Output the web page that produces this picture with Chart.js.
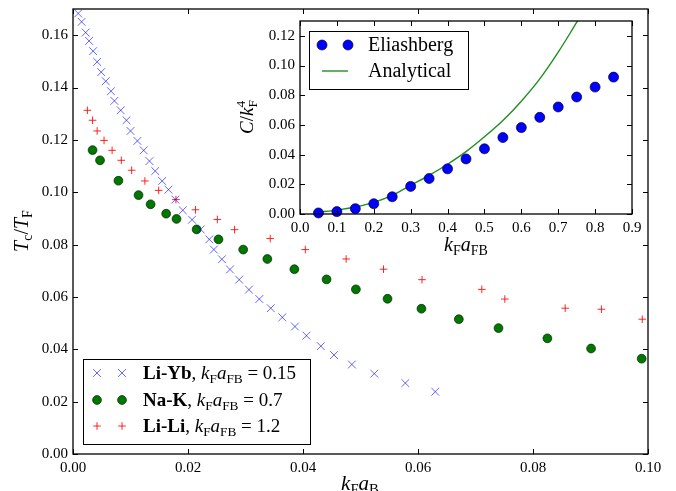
<!DOCTYPE html>
<html>
<head>
<meta charset="utf-8">
<script src="https://cdn.jsdelivr.net/npm/chart.js@4"></script>
<style>
  html, body { margin: 0; padding: 0; background: #fff; }
  #wrap { position: relative; width: 676px; height: 491px; overflow: hidden; }
  #main { position: absolute; left: 0; top: 0; }
  #inset { position: absolute; left: 230px; top: 0; }
</style>
</head>
<body>
<div id="wrap">
  <canvas id="main" width="676" height="491"></canvas>
  <canvas id="inset" width="430" height="262"></canvas>
</div>
<script>
// main panel: Tc/TF against kF aB
const liYbX = [0.0009, 0.0015, 0.0022, 0.0028, 0.0035, 0.0042, 0.0049, 0.0057, 0.0066, 0.0072, 0.0083, 0.0093, 0.0100, 0.0112, 0.0123, 0.0133, 0.0143, 0.0155, 0.0166, 0.0178, 0.0191, 0.0207, 0.0222, 0.0237, 0.0245, 0.0259, 0.0273, 0.0289, 0.0306, 0.0324, 0.0344, 0.0364, 0.0386, 0.0406, 0.0431, 0.0454, 0.0485, 0.0524, 0.0578, 0.0630];
const liYbY = [0.1683, 0.1651, 0.1610, 0.1578, 0.1539, 0.1498, 0.1459, 0.1424, 0.1386, 0.1349, 0.1313, 0.1275, 0.1234, 0.1196, 0.1160, 0.1119, 0.1081, 0.1043, 0.1010, 0.0972, 0.0931, 0.0895, 0.0858, 0.0820, 0.0781, 0.0744, 0.0705, 0.0666, 0.0628, 0.0592, 0.0557, 0.0522, 0.0487, 0.0452, 0.0412, 0.0378, 0.0342, 0.0307, 0.0271, 0.0238];
const naKX = [0.0034, 0.0047, 0.0079, 0.0114, 0.0135, 0.0162, 0.0180, 0.0215, 0.0253, 0.0296, 0.0338, 0.0385, 0.0441, 0.0492, 0.0547, 0.0606, 0.0671, 0.0740, 0.0825, 0.0901, 0.0989];
const naKY = [0.1161, 0.1122, 0.1044, 0.0989, 0.0954, 0.0918, 0.0898, 0.0858, 0.0820, 0.0781, 0.0745, 0.0706, 0.0667, 0.0629, 0.0593, 0.0555, 0.0515, 0.0481, 0.0442, 0.0403, 0.0364];
const liLiX = [0.0025, 0.0034, 0.0042, 0.0054, 0.0068, 0.0084, 0.0102, 0.0125, 0.0149, 0.0179, 0.0213, 0.0251, 0.0281, 0.0343, 0.0404, 0.0475, 0.0540, 0.0607, 0.0711, 0.0751, 0.0856, 0.0919, 0.0990];
const liLiY = [0.1313, 0.1275, 0.1234, 0.1198, 0.1160, 0.1122, 0.1084, 0.1043, 0.1007, 0.0972, 0.0933, 0.0896, 0.0857, 0.0823, 0.0781, 0.0745, 0.0706, 0.0666, 0.0629, 0.0592, 0.0557, 0.0553, 0.0515];

// inset: C/kF^4 against kF aFB
const elX = [0.05, 0.10, 0.15, 0.20, 0.25, 0.30, 0.35, 0.40, 0.45, 0.50, 0.55, 0.60, 0.65, 0.70, 0.75, 0.80, 0.85];
const elY = [0.0007, 0.0016, 0.0036, 0.0069, 0.0116, 0.0186, 0.0239, 0.0304, 0.0371, 0.0439, 0.0515, 0.0582, 0.0651, 0.0721, 0.0788, 0.0855, 0.0922];
const anX = [0.05, 0.10, 0.15, 0.20, 0.25, 0.30, 0.35, 0.40, 0.45, 0.50, 0.55, 0.60, 0.65, 0.70, 0.75, 0.76];
const anY = [0.0012, 0.0026, 0.0047, 0.0078, 0.0125, 0.0193, 0.0260, 0.0335, 0.0420, 0.0520, 0.0630, 0.0760, 0.0910, 0.1090, 0.1290, 0.1330];

const mainTicksX = [0, 0.1, 0.02];
const mainTicksY = [0, 0.17, 0.02];
const insetTicksX = [0, 0.9, 0.1];
const insetTicksY = [0, 0.13, 0.02];

const FONT = '"Liberation Serif", "DejaVu Serif", serif';
const pts = (xs, ys) => xs.map((x, i) => ({ x, y: ys[i] }));

function fontOf(kind, size) {
  const small = kind === 'sub' || kind === 'stack';
  const px = small ? size * 0.7 : size;
  const style = kind === 'i' ? 'italic ' : kind === 'b' ? 'bold ' : '';
  return style + px + 'px ' + FONT;
}

function runWidth(ctx, t, kind, size) {
  ctx.font = fontOf(kind, size);
  if (kind === 'stack') return Math.max(ctx.measureText(t[0]).width, ctx.measureText(t[1]).width);
  return ctx.measureText(t).width;
}

// text with italics, bold and sub/superscripts; y is the vertical middle
function drawRich(ctx, runs, x, y, size, align) {
  const w = runs.reduce((s, [t, k]) => s + runWidth(ctx, t, k, size), 0);
  let cx = align === 'center' ? x - w / 2 : x;
  const base = y + size * 0.32;
  ctx.textAlign = 'left';
  ctx.textBaseline = 'alphabetic';
  ctx.fillStyle = '#000';
  runs.forEach(([t, k]) => {
    const rw = runWidth(ctx, t, k, size);
    if (k === 'stack') {
      ctx.fillText(t[0], cx, base + size * 0.2);
      ctx.fillText(t[1], cx, base - size * 0.42);
    } else {
      ctx.fillText(t, cx, base + (k === 'sub' ? size * 0.2 : 0));
    }
    cx += rw;
  });
}

const frameTicks = {
  id: 'frameTicks',
  beforeDatasetsDraw(chart) {
    const { ctx, chartArea: a } = chart;
    ctx.save();
    ctx.fillStyle = '#fff';
    ctx.fillRect(a.left, a.top, a.right - a.left, a.bottom - a.top);
    ctx.restore();
  },
  afterDatasetsDraw(chart) {
    const { ctx, chartArea: a, scales } = chart;
    const len = 5;
    ctx.save();
    ctx.strokeStyle = '#000';
    ctx.lineWidth = 1;
    ctx.beginPath();
    scales.x.ticks.forEach(t => {
      const px = Math.round(scales.x.getPixelForValue(t.value)) + 0.5;
      ctx.moveTo(px, a.bottom); ctx.lineTo(px, a.bottom - len);
      ctx.moveTo(px, a.top); ctx.lineTo(px, a.top + len);
    });
    scales.y.ticks.forEach(t => {
      const py = Math.round(scales.y.getPixelForValue(t.value)) + 0.5;
      ctx.moveTo(a.left, py); ctx.lineTo(a.left + len, py);
      ctx.moveTo(a.right, py); ctx.lineTo(a.right - len, py);
    });
    ctx.stroke();
    ctx.lineWidth = 1.3;
    ctx.strokeRect(a.left, a.top, a.right - a.left, a.bottom - a.top);
    ctx.restore();
  }
};

const richLegend = {
  id: 'richLegend',
  afterDraw(chart, args, o) {
    const ctx = chart.ctx;
    const [bx, by, bw, bh] = o.box;
    ctx.save();
    ctx.fillStyle = '#fff';
    ctx.fillRect(bx, by, bw, bh);
    ctx.strokeStyle = '#000';
    ctx.lineWidth = 1;
    ctx.strokeRect(bx + 0.5, by + 0.5, bw, bh);
    o.rows.forEach((row, i) => {
      const ds = chart.data.datasets[row.ds];
      const y = o.rowY[i];
      if (row.line) {
        ctx.strokeStyle = ds.borderColor;
        ctx.lineWidth = ds.borderWidth;
        ctx.beginPath();
        ctx.moveTo(o.markX[0], y);
        ctx.lineTo(o.markX[1], y);
        ctx.stroke();
      } else {
        o.markX.forEach(mx => {
          ctx.fillStyle = ds.backgroundColor;
          ctx.strokeStyle = ds.borderColor;
          ctx.lineWidth = ds.borderWidth;
          Chart.helpers.drawPoint(ctx, { pointStyle: ds.pointStyle, radius: ds.pointRadius, rotation: 0, borderWidth: ds.borderWidth }, mx, y);
        });
      }
      drawRich(ctx, row.text, o.textX, y, o.size, 'left');
    });
    ctx.restore();
  }
};

const axisTitles = {
  id: 'axisTitles',
  afterDraw(chart, args, o) {
    const ctx = chart.ctx;
    o.items.forEach(it => {
      ctx.save();
      ctx.translate(it.x, it.y);
      if (it.rot) ctx.rotate(-Math.PI / 2);
      drawRich(ctx, it.runs, 0, 0, it.size, 'center');
      ctx.restore();
    });
  }
};

function linAxis(t, digits, fixed) {
  return {
    type: 'linear',
    min: t[0],
    max: t[1],
    grid: { display: false, drawTicks: false },
    border: { display: false },
    ticks: {
      stepSize: t[2],
      includeBounds: false,
      autoSkip: false,
      maxRotation: 0,
      color: '#000',
      padding: 5,
      font: { family: FONT, size: 15 },
      callback: v => v.toFixed(digits)
    },
    afterFit: s => {
      fixed(s);
      s.paddingTop = 0; s.paddingBottom = 0;
      s.paddingLeft = 0; s.paddingRight = 0;
    }
  };
}

new Chart(document.getElementById('main'), {
  type: 'scatter',
  data: {
    datasets: [
      { label: 'Li-Yb', data: pts(liYbX, liYbY), pointStyle: 'crossRot', pointRadius: 5.5, borderWidth: 1, borderColor: 'rgba(0,0,255,0.6)', backgroundColor: 'rgba(0,0,255,0.6)' },
      { label: 'Na-K', data: pts(naKX, naKY), pointStyle: 'circle', pointRadius: 4.4, borderWidth: 0.7, borderColor: '#002200', backgroundColor: '#007800' },
      { label: 'Li-Li', data: pts(liLiX, liLiY), pointStyle: 'cross', pointRadius: 3.8, borderWidth: 1, borderColor: 'rgba(255,0,0,0.85)', backgroundColor: 'rgba(255,0,0,0.85)' }
    ]
  },
  options: {
    responsive: false,
    animation: false,
    layout: { padding: { left: 0, right: 28, top: 9, bottom: 0 } },
    plugins: {
      legend: { display: false },
      tooltip: { enabled: false },
      richLegend: {
        box: [83, 359, 227, 85],
        rowY: [373, 400, 426],
        markX: [97, 122],
        textX: 143,
        size: 19,
        rows: [
          { ds: 0, text: [['Li-Yb', 'b'], [', ', 'r'], ['k', 'i'], ['F', 'sub'], ['a', 'i'], ['FB', 'sub'], [' = 0.15', 'r']] },
          { ds: 1, text: [['Na-K', 'b'], [', ', 'r'], ['k', 'i'], ['F', 'sub'], ['a', 'i'], ['FB', 'sub'], [' = 0.7', 'r']] },
          { ds: 2, text: [['Li-Li', 'b'], [', ', 'r'], ['k', 'i'], ['F', 'sub'], ['a', 'i'], ['FB', 'sub'], [' = 1.2', 'r']] }
        ]
      },
      axisTitles: {
        items: [
          { runs: [['T', 'i'], ['c', 'sub'], ['/', 'r'], ['T', 'i'], ['F', 'sub']], x: 22, y: 231, size: 20, rot: true },
          { runs: [['k', 'i'], ['F', 'sub'], ['a', 'i'], ['B', 'sub']], x: 360, y: 483, size: 21 }
        ]
      }
    },
    scales: {
      x: linAxis(mainTicksX, 2, s => { s.height = 37; }),
      y: linAxis(mainTicksY, 2, s => { s.width = 73; })
    }
  },
  plugins: [frameTicks, richLegend, axisTitles]
});

new Chart(document.getElementById('inset'), {
  type: 'scatter',
  data: {
    datasets: [
      { label: 'Eliashberg', data: pts(elX, elY), order: 1, clip: false, pointStyle: 'circle', pointRadius: 5, borderWidth: 0.7, borderColor: '#000033', backgroundColor: '#0000ff' },
      { type: 'line', label: 'Analytical', data: pts(anX, anY), order: 2, showLine: true, fill: false, pointRadius: 0, borderWidth: 1.4, borderColor: '#1f8f1f', cubicInterpolationMode: 'monotone' }
    ]
  },
  options: {
    responsive: false,
    animation: false,
    layout: { padding: { left: 0, right: 28, top: 21, bottom: 0 } },
    plugins: {
      legend: { display: false },
      tooltip: { enabled: false },
      richLegend: {
        box: [79, 31, 159, 58],
        rowY: [45, 71],
        markX: [92, 118],
        textX: 138,
        size: 20,
        rows: [
          { ds: 0, text: [['Eliashberg', 'r']] },
          { ds: 1, line: true, text: [['Analytical', 'r']] }
        ]
      },
      axisTitles: {
        items: [
          { runs: [['C', 'i'], ['/', 'r'], ['k', 'i'], [['F', '4'], 'stack']], x: 17, y: 117, size: 19, rot: true },
          { runs: [['k', 'i'], ['F', 'sub'], ['a', 'i'], ['FB', 'sub']], x: 236, y: 245, size: 20 }
        ]
      }
    },
    scales: {
      x: linAxis(insetTicksX, 1, s => { s.height = 48; }),
      y: linAxis(insetTicksY, 2, s => { s.width = 70; })
    }
  },
  plugins: [frameTicks, richLegend, axisTitles]
});
</script>
</body>
</html>
